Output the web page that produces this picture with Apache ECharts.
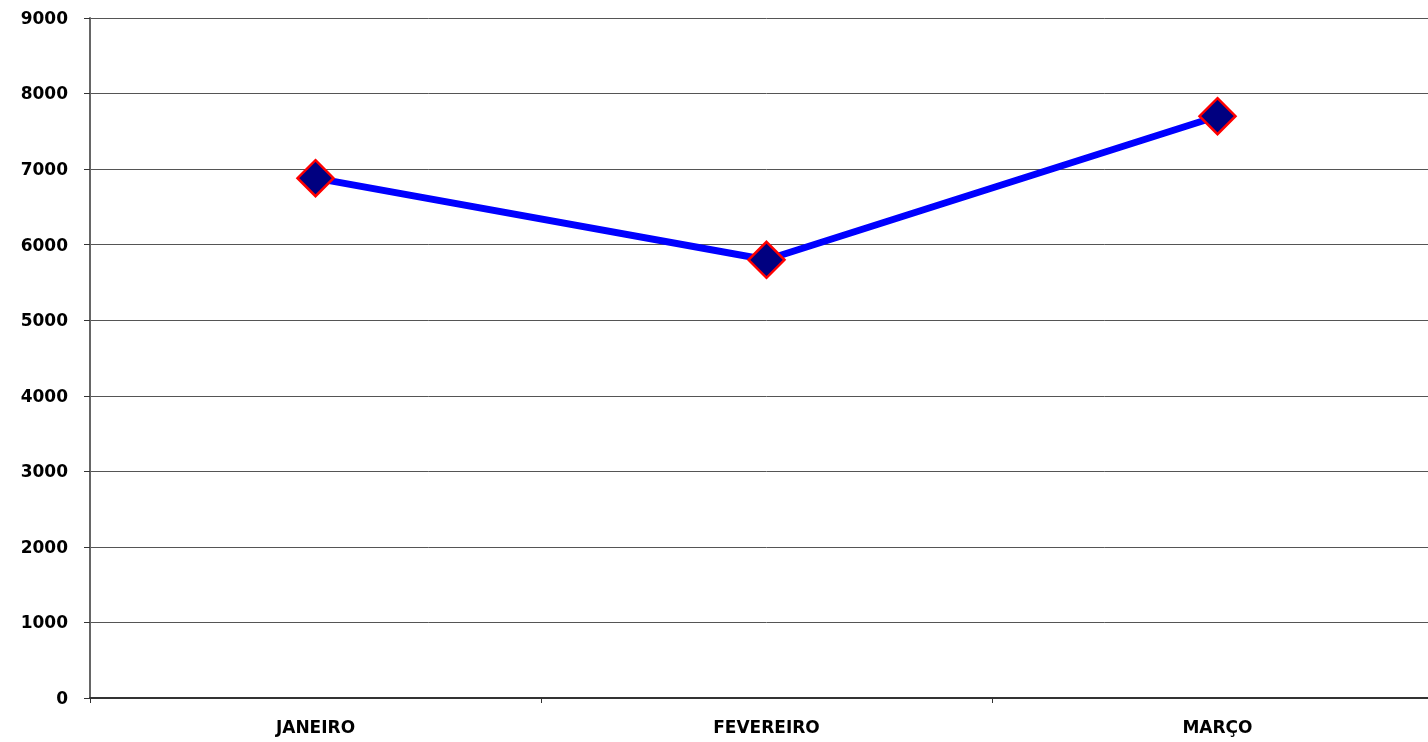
<!DOCTYPE html>
<html>
<head>
<meta charset="utf-8">
<script src="https://cdn.jsdelivr.net/npm/echarts@6/dist/echarts.min.js"></script>
<style>
html,body{margin:0;padding:0;background:#fff;overflow:hidden;width:1428px;height:742px;}
#chart{width:1443px;height:742px;}
</style>
</head>
<body>
<div id="chart"></div>
<script>
const categories = ['JANEIRO', 'FEVEREIRO', 'MARÇO'];
const values = [6880, 5800, 7700];
const yMin = 0, yMax = 9000, yStep = 1000;

const chart = echarts.init(document.getElementById('chart'));
chart.setOption({
  animation: false,
  backgroundColor: '#ffffff',
  grid: { left: 90, right: 0, top: 18, bottom: 44, containLabel: false },
  xAxis: {
    type: 'category',
    data: categories,
    boundaryGap: true,
    axisLine: { lineStyle: { color: '#333333', width: 2 } },
    axisTick: { show: true, length: 5, lineStyle: { color: '#333333', width: 1 } },
    axisLabel: {
      margin: 22,
      color: '#000000',
      fontFamily: 'DejaVu Sans',
      fontWeight: 'bold',
      fontSize: 17
    },
    splitLine: { show: false }
  },
  yAxis: {
    type: 'value',
    min: yMin, max: yMax, interval: yStep,
    axisLine: { show: true, lineStyle: { color: '#666666', width: 2 } },
    axisTick: { show: true, length: 6, lineStyle: { color: '#333333', width: 1 } },
    axisLabel: {
      margin: 22,
      color: '#000000',
      fontFamily: 'DejaVu Sans',
      fontWeight: 'bold',
      fontSize: 17,
      verticalAlign: 'top',
      padding: [-7, 0, 0, 0],
      formatter: function (v) { return String(v); }
    },
    splitLine: { show: true, lineStyle: { color: '#555555', width: 1 } }
  },
  series: [{
    type: 'line',
    data: values,
    symbol: 'diamond',
    symbolSize: 36,
    lineStyle: { color: '#0000ff', width: 7 },
    itemStyle: { color: '#000080', borderColor: '#ff0000', borderWidth: 2.5 },
    z: 3
  }]
});
</script>
</body>
</html>
